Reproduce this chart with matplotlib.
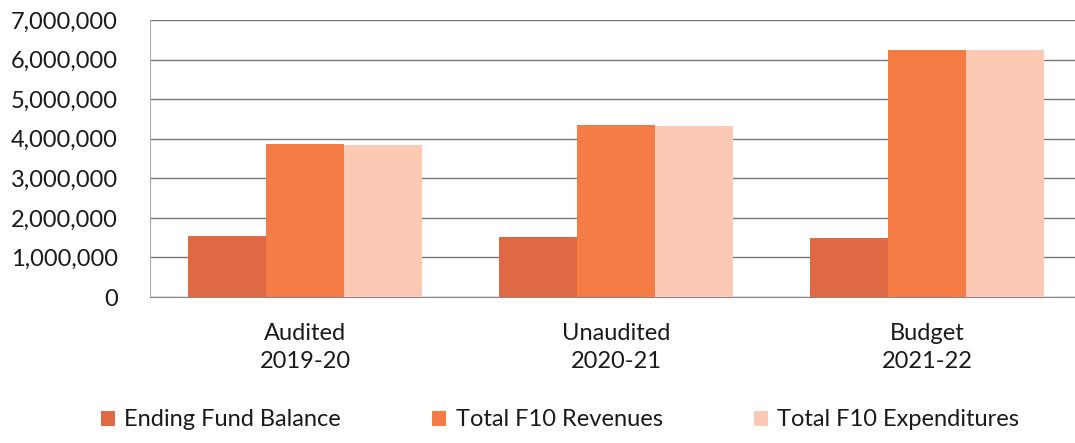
import matplotlib.pyplot as plt
import numpy as np

plt.rcParams["font.family"] = ["Lato", "DejaVu Sans"]

categories = ["Audited\n2019-20", "Unaudited\n2020-21", "Budget\n2021-22"]
series_names = ["Ending Fund Balance", "Total F10 Revenues", "Total F10 Expenditures"]
ending_balance = [1540000, 1520000, 1490000]
revenues = [3860000, 4340000, 6240000]
expenditures = [3840000, 4330000, 6230000]
colors = ["#DE6942", "#F57D45", "#FCCAB4"]

fig = plt.figure(figsize=(10.75, 4.43), dpi=100)
ax = fig.add_axes([149.5 / 1075, 1 - 297 / 443, 933 / 1075, 277 / 443])

x = np.arange(len(categories))
width = 0.25
for i, (vals, name) in enumerate(zip([ending_balance, revenues, expenditures], series_names)):
    ax.bar(x + (i - 1) * width, vals, width, color=colors[i], label=name, zorder=3)

ax.set_xlim(-0.5, 2.5)
ax.set_ylim(0, 7000000)
ax.set_yticks(np.arange(0, 7000001, 1000000))
ax.yaxis.set_major_formatter(plt.FuncFormatter(lambda v, p: f"{int(v):,}"))
ax.set_xticks(x)
ax.set_xticklabels(categories, linespacing=1.4)
ax.tick_params(axis="both", length=0, labelsize=17, colors="#1a1a1a")
ax.tick_params(axis="x", pad=19)
ax.tick_params(axis="y", pad=23)

ax.grid(axis="y", color="#777777", linewidth=1.0, zorder=0)
ax.spines[["top", "right"]].set_visible(False)
ax.spines["left"].set_color("#aaaaaa")
ax.spines["bottom"].set_color("#888888")

handles, labels = ax.get_legend_handles_labels()
leg = fig.legend(handles, labels, loc="center", bbox_to_anchor=(0.521, 1 - 420 / 443),
                 ncol=3, frameon=False, fontsize=17, handlelength=0.6, handleheight=0.6,
                 handletextpad=0.4, columnspacing=3.85)
for t in leg.get_texts():
    t.set_color("#1a1a1a")

fig.savefig("out.png", dpi=100)
